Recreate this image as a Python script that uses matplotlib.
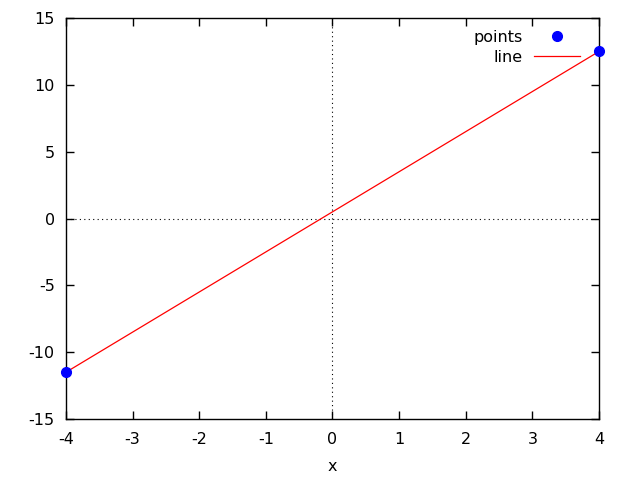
import matplotlib
matplotlib.use('Agg')
import matplotlib.pyplot as plt

# data
px = [-4, 4]
py = [-11.5, 12.5]
lx = [-4, 4]
ly = [-11.5, 12.5]

xticks = [-4, -3, -2, -1, 0, 1, 2, 3, 4]
yticks = [-15, -10, -5, 0, 5, 10, 15]

plt.rcParams['font.family'] = 'DejaVu Sans'
plt.rcParams['axes.unicode_minus'] = False

fig = plt.figure(figsize=(6.4, 4.8), dpi=100)
ax = fig.add_axes([0.103, 0.127, 0.833, 0.8355])

ax.axhline(0, color='black', lw=0.8, ls=(0, (1, 3)), zorder=1)
ax.axvline(0, color='black', lw=0.8, ls=(0, (1, 3)), zorder=1)

ax.plot(px, py, 'o', color='blue', ms=7, label='points', zorder=3, clip_on=False)
ax.plot(lx, ly, '-', color='red', lw=0.9, label='line', zorder=2)

ax.set_xlim(-4, 4)
ax.set_ylim(-15, 15)
ax.set_xticks(xticks)
ax.set_yticks(yticks)
ax.tick_params(direction='in', top=True, right=True, labelsize=11.5, length=6, width=1)
ax.tick_params(axis='x', pad=9)
ax.tick_params(axis='y', pad=8)
for s in ax.spines.values():
  s.set_linewidth(1)
ax.set_xlabel('x', fontsize=11.5, labelpad=9)

ax.legend(loc='upper right', bbox_to_anchor=(0.9644, 0.970), frameon=False,
          markerfirst=False, fontsize=11.5, handlelength=2.9, handletextpad=0.7,
          borderaxespad=0, borderpad=0, labelspacing=0.28)

plt.savefig('out.png', dpi=100)
